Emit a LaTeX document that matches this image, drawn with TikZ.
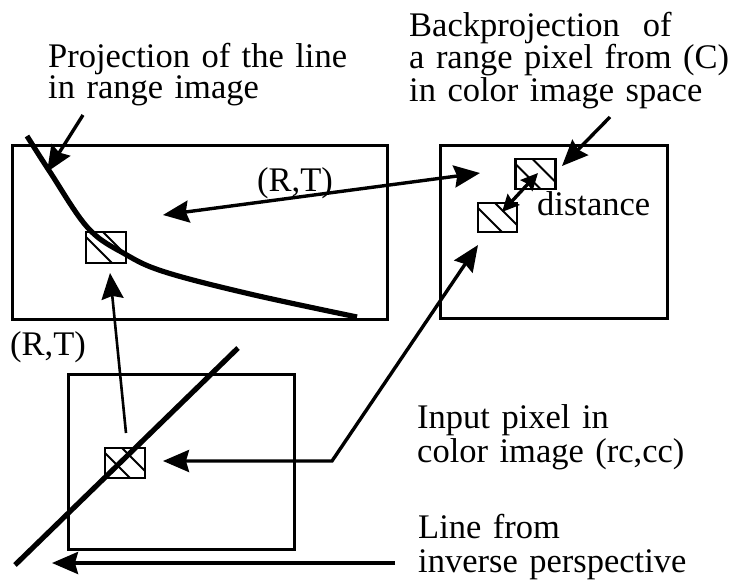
\documentclass[tikz,border=0pt]{standalone}
\usepackage{fontspec}
\setmainfont{Liberation Serif}
\usetikzlibrary{arrows.meta}
\lineskiplimit=-50pt
\begin{document}
\begin{tikzpicture}[x=1pt,y=-1pt,
  frame/.style={draw, line width=3pt, inner sep=0pt},
  pix/.style={draw, line width=2.6pt, inner sep=0pt, minimum width=38pt, minimum height=29pt,
    path picture={
      \draw[line width=2pt] ([yshift=-5pt]path picture bounding box.north west) -- ++(26pt,-26pt);
      \draw[line width=2pt] ([xshift=17pt]path picture bounding box.north west) -- ++(26pt,-26pt);}},
  tipbig/.tip={Stealth[length=26pt,width=22pt,inset=3pt]},
  tipsmall/.tip={Stealth[length=17pt,width=16pt,inset=2pt]},
  arr/.style={line width=3.4pt, -tipbig},
  darr/.style={line width=3.4pt, tipbig-tipbig},
  thickline/.style={line width=5.2pt},
  lbl/.style={inner sep=0pt, anchor=base west, align=left, text width=340pt,
    font=\fontsize{34.5}{31}\selectfont},
  lblwide/.style={lbl, font=\fontsize{34.5}{34}\selectfont}
]
\useasboundingbox (0,0) rectangle (732,584);

% image frames
\node[frame, minimum width=375pt, minimum height=174pt] (range) at (199.5,232) {};
\node[frame, minimum width=227pt, minimum height=173pt] (color) at (553.5,231.5) {};
\node[frame, minimum width=226pt, minimum height=175pt] (range2) at (181,461.5) {};

% pixels
\node[pix, minimum width=40pt, minimum height=31pt] (p1) at (106,247.5) {};
\node[pix, minimum width=40pt, minimum height=30pt] (p2) at (125,463) {};
\node[pix, minimum width=40pt, minimum height=30pt] (p3) at (535.5,174) {};
\node[pix, minimum width=39pt, minimum height=29pt] (p4) at (497.5,217.5) {};

% projected line (curve) and 3D line
\draw[thickline] plot[smooth, tension=0.6] coordinates {(27,136) (50,172) (88,228) (125,254) (165,272) (250,294) (357,317)};
\draw[thickline] (15,565) -- (238,348);

% texts
\node[lbl] (tproj) at (48,67) {Projection of the line\\in range image};
\node[lbl] (tback) at (409,36) {Backprojection\ \ of\\a range pixel from (C)\\in color image space};
\node[lblwide] (tin) at (417,428) {Input pixel in\\color image (rc,cc)};
\node[lblwide] (tline) at (418,538) {Line from\\inverse perspective};
\node[lbl] (trt1) at (257,191) {(R,T)};
\node[lbl] (trt2) at (10,355) {(R,T)};
\node[lbl] (tdist) at (537,215) {distance};

% arrow end points
\coordinate (a1s) at (83,115);   \coordinate (a1e) at (47,172);
\coordinate (rtA) at (163,215);  \coordinate (rtB) at (480,173);
\coordinate (vS) at (126,433);   \coordinate (vE) at (110,273);
\coordinate (bkS) at (610,117);  \coordinate (bkE) at (562,166);
\coordinate (dA) at (502,212);   \coordinate (dB) at (538,173);
\coordinate (ipA) at (478,245);  \coordinate (ipC) at (332,461); \coordinate (ipB) at (163,461);
\coordinate (lfS) at (395,563);  \coordinate (lfE) at (52,563);

% connectors
\draw[arr] (a1s) -- (a1e);
\draw[darr] (rtA) -- (rtB);
\draw[line width=2.6pt, -tipbig] (vS) -- (vE);
\draw[arr] (bkS) -- (bkE);
\draw[line width=3.4pt, tipsmall-tipsmall] (dA) -- (dB);
\draw[darr] (ipA) -- (ipC) -- (ipB);
\draw[arr] (lfS) -- (lfE);
\end{tikzpicture}
\end{document}
